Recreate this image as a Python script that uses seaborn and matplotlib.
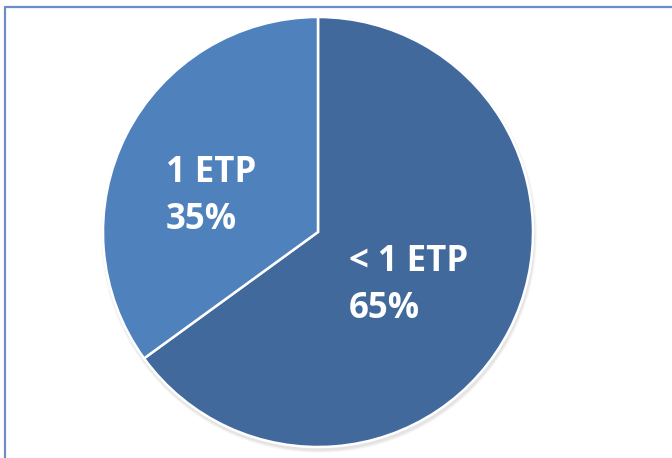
import matplotlib
matplotlib.use("Agg")
import matplotlib.pyplot as plt
import seaborn as sns
from matplotlib.patches import Circle

# Share of staff by working time (ETP = équivalent temps plein)
categories = ["< 1 ETP", "1 ETP"]
shares = [65, 35]
colors = ["#41699C", "#4F81BD"]

sns.set_theme(style="white")
plt.rcParams["font.family"] = ["Open Sans", "DejaVu Sans"]

W, H = 672, 458
fig = plt.figure(figsize=(W / 100, H / 100), dpi=100)
ax = fig.add_axes([0, 0, 1, 1])


def Y(py):
    # pixel row measured from the top -> data y
    return H - py


cx, cy, r = 318, 232, 215

# soft shadow under the pie
for k, a in enumerate([0.05, 0.07, 0.09]):
    ax.add_patch(Circle((cx + 1, Y(cy + 3)), r + 3 - k, color="#808080", alpha=a, lw=0, zorder=0))

ax.pie(
    shares,
    colors=colors,
    startangle=90,
    counterclock=False,
    center=(cx, Y(cy)),
    radius=r,
    frame=True,
    wedgeprops=dict(edgecolor="white", linewidth=1.8),
)
ax.set_xlim(0, W)
ax.set_ylim(0, H)
ax.set_aspect("equal")
ax.axis("off")

label_pos = {"< 1 ETP": (349, 262), "1 ETP": (166, 173)}
for cat, val in zip(categories, shares):
    x, y = label_pos[cat]
    ax.text(x, Y(y), cat, color="white", fontsize=25, fontweight="bold",
            ha="left", va="center", zorder=5)
    ax.text(x, Y(y + 47), f"{val}%", color="white", fontsize=25, fontweight="bold",
            ha="left", va="center", zorder=5)

# chart area frame (top and left edges visible)
ax.plot([5, 5, W], [Y(H), Y(7), Y(7)], color="#6B8DC9", lw=1.6, solid_capstyle="butt", zorder=6)

fig.savefig("out.png", dpi=100)
